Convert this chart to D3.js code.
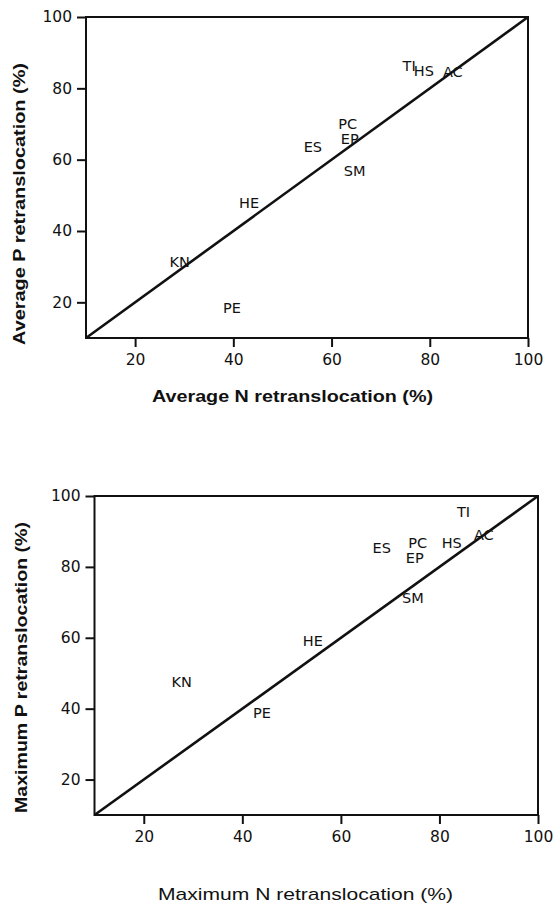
<!DOCTYPE html>
<html>
<head>
<meta charset="utf-8">
<script src="https://cdn.jsdelivr.net/npm/d3@7"></script>
<style>
  body { margin: 0; background: #fff; }
  svg { display: block; }
  .tick text { font-family: "DejaVu Sans", sans-serif; font-size: 15.5px; fill: #111; }
  .code { font-family: "DejaVu Sans", sans-serif; font-size: 14.5px; fill: #111; }
  .title { font-family: "Liberation Sans", Arial, sans-serif; fill: #111; }
</style>
</head>
<body>
<div id="chart"></div>
<script>
// species codes
const species = ["TI", "HS", "AC", "PC", "EP", "ES", "SM", "HE", "KN", "PE"];
const avgN = [75.8, 78.8, 84.7, 63.3, 63.7, 56.2, 64.7, 43.2, 29.1, 39.7];
const avgP = [86.3, 84.9, 84.6, 69.9, 65.9, 63.5, 56.8, 47.8, 31.3, 18.4];
const maxN = [84.9, 82.5, 89.0, 75.6, 75.0, 68.3, 74.6, 54.3, 27.7, 44.0];
const maxP = [95.4, 86.6, 88.9, 86.6, 82.4, 85.2, 71.1, 59.0, 47.5, 38.7];
const axisDomain = [10, 100];
const tickValues = [20, 40, 60, 80, 100];

const width = 555;
const height = 906;

const svg = d3.select("#chart").append("svg")
    .attr("width", width)
    .attr("height", height);

const panels = [
    {
        xs: avgN, ys: avgP,
        xRange: [86, 528], yRange: [338, 17],
        xTitle: "Average N retranslocation (%)", yTitle: "Average P retranslocation (%)",
        xTitlePos: [292.5, 402], xTitleLen: 281, xWeight: "bold",
        yTitlePos: [25, 204], yTitleLen: 282, yWeight: "bold"
    },
    {
        xs: maxN, ys: maxP,
        xRange: [94.5, 538], yRange: [815, 496],
        xTitle: "Maximum N retranslocation (%)", yTitle: "Maximum P retranslocation (%)",
        xTitlePos: [305.5, 900], xTitleLen: 295, xWeight: "normal",
        yTitlePos: [27, 667.5], yTitleLen: 291, yWeight: "bold"
    }
];

panels.forEach(drawPanel);

function drawPanel(p) {
    const x = d3.scaleLinear().domain(axisDomain).range(p.xRange);
    const y = d3.scaleLinear().domain(axisDomain).range(p.yRange);
    const g = svg.append("g");

    // axes with outward ticks
    const xAxis = g.append("g")
        .attr("transform", `translate(0,${p.yRange[0]})`)
        .call(d3.axisBottom(x).tickValues(tickValues).tickSize(9).tickPadding(7).tickSizeOuter(0));
    const yAxis = g.append("g")
        .attr("transform", `translate(${p.xRange[0]},0)`)
        .call(d3.axisLeft(y).tickValues(tickValues).tickSize(9).tickPadding(5).tickSizeOuter(0));
    [xAxis, yAxis].forEach(a => {
        a.select(".domain").remove();
        a.selectAll(".tick line").attr("stroke", "#111").attr("stroke-width", 2);
    });

    // frame
    g.append("rect")
        .attr("x", x(axisDomain[0]))
        .attr("y", y(axisDomain[1]))
        .attr("width", x(axisDomain[1]) - x(axisDomain[0]))
        .attr("height", y(axisDomain[0]) - y(axisDomain[1]))
        .attr("fill", "none")
        .attr("stroke", "#111")
        .attr("stroke-width", 2);

    // 1:1 line
    g.append("line")
        .attr("x1", x(axisDomain[0])).attr("y1", y(axisDomain[0]))
        .attr("x2", x(axisDomain[1])).attr("y2", y(axisDomain[1]))
        .attr("stroke", "#111")
        .attr("stroke-width", 2.6);

    // species labels as the markers
    g.selectAll(".code")
        .data(species)
        .join("text")
        .attr("class", "code")
        .attr("x", (d, i) => x(p.xs[i]))
        .attr("y", (d, i) => y(p.ys[i]))
        .attr("text-anchor", "middle")
        .attr("dominant-baseline", "central")
        .text(d => d);

    g.append("text")
        .attr("class", "title")
        .attr("x", p.xTitlePos[0])
        .attr("y", p.xTitlePos[1])
        .attr("text-anchor", "middle")
        .attr("font-size", 17)
        .attr("font-weight", p.xWeight)
        .attr("textLength", p.xTitleLen)
        .attr("lengthAdjust", "spacingAndGlyphs")
        .text(p.xTitle);

    g.append("text")
        .attr("class", "title")
        .attr("transform", `translate(${p.yTitlePos[0]},${p.yTitlePos[1]}) rotate(-90)`)
        .attr("text-anchor", "middle")
        .attr("font-size", 17)
        .attr("font-weight", p.yWeight)
        .attr("textLength", p.yTitleLen)
        .attr("lengthAdjust", "spacingAndGlyphs")
        .text(p.yTitle);
}
</script>
</body>
</html>
